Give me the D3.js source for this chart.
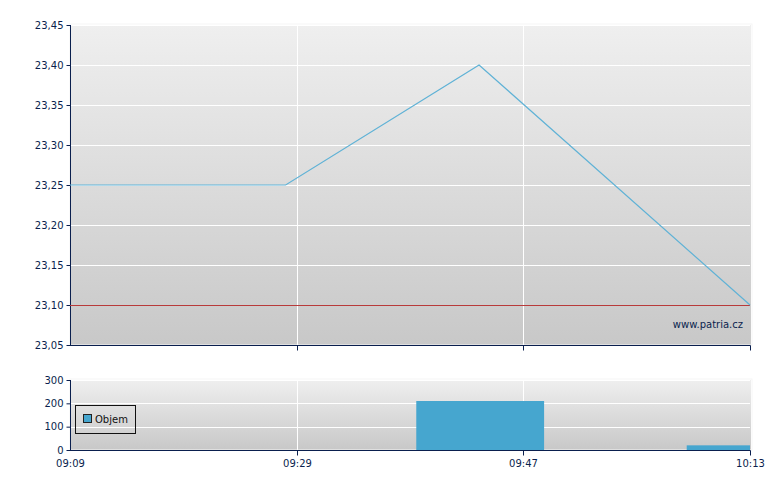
<!DOCTYPE html>
<html><head><meta charset="utf-8">
<script src="https://cdn.jsdelivr.net/npm/d3@7"></script>
<style>body{margin:0;background:#fff}svg{display:block}text{font-family:"DejaVu Sans",Verdana,sans-serif;font-size:10px;fill:#0a1f4e}</style>
</head><body><svg id="c" width="780" height="490"></svg>
<script>
const tickTimes = ["09:09","09:29","09:47","10:13"];
const priceTimes = ["09:09:00","09:28:00","09:43:30","10:13:00"];
const priceValues = [23.25, 23.25, 23.40, 23.10];
const refPrice = 23.10;
const priceTicks = [23.05,23.10,23.15,23.20,23.25,23.30,23.35,23.40,23.45];
const volStart = ["09:38:30","10:05:45"];
const volEnd = ["09:49:25","10:13:00"];
const volValues = [210, 20];
const volTicks = [0,100,200,300];
const legendLabel = "Objem";
const watermark = "www.patria.cz";

const parse = s => { const p = s.split(":").map(Number); return new Date(2020,0,1,p[0],p[1],p[2]||0); };
const svg = d3.select("#c");
const L = 70, R = 750;
const x = d3.scaleTime().domain(tickTimes.map(parse)).range([L, 297, 523, R]);
const y = d3.scaleLinear().domain([23.05, 23.45]).range([345, 25]);
const yv = d3.scaleLinear().domain([0, 300]).range([450, 380]);
const navy = "#0a1f4e";

const defs = svg.append("defs");
const g1 = defs.append("linearGradient").attr("id","bg").attr("x1",0).attr("y1",0).attr("x2",0).attr("y2",1);
g1.append("stop").attr("offset","0%").attr("stop-color","#efefef");
g1.append("stop").attr("offset","100%").attr("stop-color","#c8c8c8");

function panel(ys, ticks, fmt) {
  const [b, t] = ys.range();
  svg.append("rect").attr("x", L).attr("y", t).attr("width", R - L + 1).attr("height", b - t).attr("fill", "url(#bg)");
  svg.append("rect").attr("x", L).attr("y", t - 1).attr("width", R - L + 2).attr("height", b - t + 1).attr("fill","none").attr("stroke","#f6f6f6").attr("stroke-width",1);
  svg.append("g").selectAll("line").data(ticks.slice(1)).join("line")
    .attr("x1", L).attr("x2", R).attr("y1", d => Math.round(ys(d)) + 0.5).attr("y2", d => Math.round(ys(d)) + 0.5)
    .attr("stroke", "#fff").attr("stroke-width", 1);
  svg.append("g").selectAll("line").data(tickTimes.slice(1, -1)).join("line")
    .attr("x1", d => Math.round(x(parse(d))) + 0.5).attr("x2", d => Math.round(x(parse(d))) + 0.5)
    .attr("y1", t).attr("y2", b).attr("stroke", "#fff");
  const ya = svg.append("g").attr("transform", `translate(${L + 0.5},0)`)
    .call(d3.axisLeft(ys).tickValues(ticks).tickFormat(fmt).tickSize(4).tickPadding(3).tickSizeOuter(0));
  ya.select(".domain").attr("stroke", navy).attr("d", `M0,${t}V${b}`);
  ya.selectAll(".tick line").attr("stroke", navy);
  ya.selectAll("text").attr("font-family", null).attr("font-size", null).style("fill", navy);
}

panel(y, priceTicks, d => d3.format(".2f")(d).replace(".", ","));
panel(yv, volTicks, d3.format("d"));

function xAxis(yy, labels) {
  const ax = svg.append("g").attr("transform", `translate(0,${yy + 0.5})`)
    .call(d3.axisBottom(x).tickValues(tickTimes.map(parse)).tickSize(5).tickPadding(4).tickSizeOuter(0)
      .tickFormat(labels ? d3.timeFormat("%H:%M") : ""));
  ax.select(".domain").attr("stroke", navy).attr("d", `M${L},0H${R + 0.5}`);
  ax.selectAll(".tick line").attr("stroke", navy);
  ax.selectAll(".tick").filter((d, i) => i === 0).select("line").remove();
  ax.selectAll("text").attr("font-family", null).attr("font-size", null).style("fill", navy);
}

svg.append("line").attr("x1", L).attr("x2", R).attr("y1", Math.round(y(refPrice)) + 0.5).attr("y2", Math.round(y(refPrice)) + 0.5)
  .attr("stroke", "#b83a3a").attr("stroke-width", 1);

const pts = priceTimes.map((t, i) => [parse(t), priceValues[i]]);
svg.append("path").datum(pts)
  .attr("d", d3.line().x(d => x(d[0])).y(d => y(d[1])))
  .attr("fill", "none").attr("stroke", "#5fb2d6").attr("stroke-width", 1.2);

svg.append("text").attr("x", 743).attr("y", 328).attr("text-anchor", "end").text(watermark);

xAxis(345, false);

svg.append("g").selectAll("rect").data(volValues).join("rect")
  .attr("x", (d, i) => x(parse(volStart[i])))
  .attr("width", (d, i) => x(parse(volEnd[i])) - x(parse(volStart[i])))
  .attr("y", d => yv(d)).attr("height", d => yv(0) - yv(d))
  .attr("fill", "#46a6cf");
xAxis(450, true);

const lg = svg.append("g");
lg.append("rect").attr("x", 75.5).attr("y", 405.5).attr("width", 60).attr("height", 28).attr("fill", "none").attr("stroke", "#111");
lg.append("rect").attr("x", 83.5).attr("y", 414.5).attr("width", 8).attr("height", 8).attr("fill", "#46a6cf").attr("stroke", "#222");
lg.append("text").attr("x", 95).attr("y", 423).style("fill", "#111").text(legendLabel);
</script></body></html>
